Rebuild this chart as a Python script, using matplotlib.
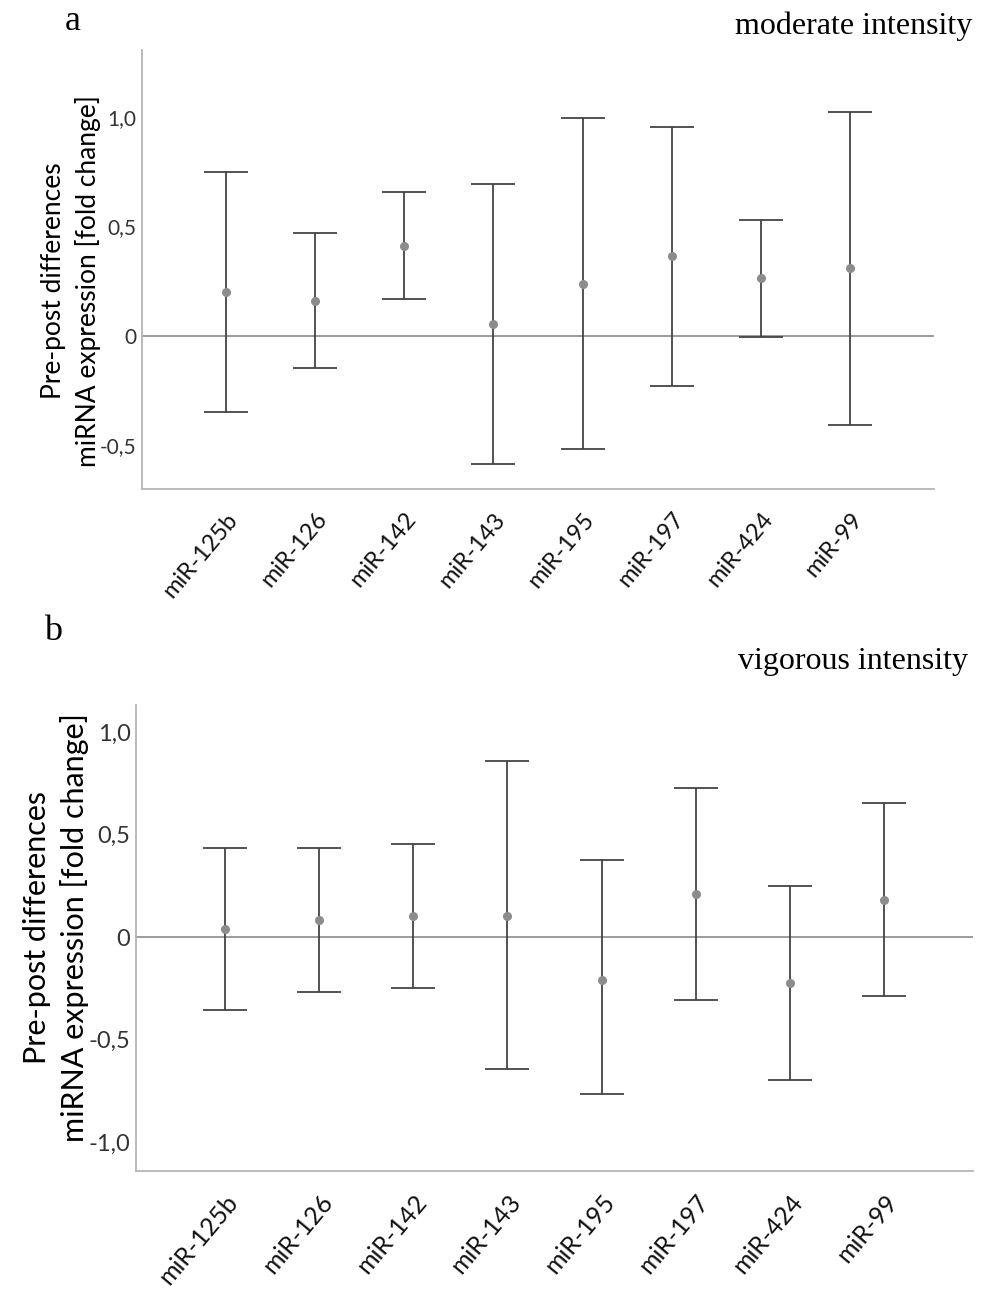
import matplotlib.pyplot as plt
import numpy as np

mirnas = ["miR-125b", "miR-126", "miR-142", "miR-143", "miR-195", "miR-197", "miR-424", "miR-99"]

# moderate intensity: mean and CI bounds (fold change)
mod_mean = [0.20, 0.16, 0.41, 0.054, 0.237, 0.363, 0.262, 0.308]
mod_low = [-0.35, -0.146, 0.166, -0.587, -0.519, -0.228, -0.005, -0.409]
mod_high = [0.749, 0.470, 0.658, 0.694, 0.993, 0.953, 0.527, 1.021]

# vigorous intensity
vig_mean = [0.039, 0.085, 0.102, 0.105, -0.211, 0.211, -0.224, 0.183]
vig_low = [-0.355, -0.269, -0.250, -0.645, -0.766, -0.308, -0.695, -0.287]
vig_high = [0.434, 0.437, 0.455, 0.859, 0.375, 0.729, 0.249, 0.654]

ylabel = "Pre-post differences\nmiRNA expression [fold change]"
sans = ["Lato", "DejaVu Sans"]
serif = ["Liberation Serif", "DejaVu Serif"]


def tick_fmt(v):
    if v == 0:
        return "0"
    return ("%.1f" % v).replace(".", ",")


def panel(ax, mean, low, high, yticks, ylim, xlim, tsize, xsize):
    x = np.arange(len(mirnas))
    mean = np.array(mean)
    err = [mean - np.array(low), np.array(high) - mean]
    ax.axhline(0, color="#808080", lw=1.1, zorder=1)
    ax.errorbar(x, mean, yerr=err, fmt="none", ecolor="#444444",
                elinewidth=1.3, capsize=16, capthick=1.3, zorder=2)
    ax.plot(x, mean, "o", color="#8c8c8c", ms=5.5, zorder=3)
    ax.set_xlim(*xlim)
    ax.set_ylim(*ylim)
    ax.set_yticks(yticks)
    ax.set_yticklabels([tick_fmt(v) for v in yticks], family=sans,
                       fontsize=tsize, color="#333333")
    ax.set_xticks(x)
    ax.set_xticklabels(mirnas, rotation=50, ha="right", rotation_mode="anchor",
                       family=sans, fontsize=xsize, color="#111111")
    ax.tick_params(axis="both", length=0)
    ax.tick_params(axis="x", pad=14)
    ax.tick_params(axis="y", pad=4)
    for s in ["top", "right"]:
        ax.spines[s].set_visible(False)
    for s in ["left", "bottom"]:
        ax.spines[s].set_color("#b5b5b5")
        ax.spines[s].set_linewidth(1.3)


fig = plt.figure(figsize=(9.82, 12.93), dpi=100)

ax1 = fig.add_axes([0.1443, 0.6216, 0.8071, 0.3397])
panel(ax1, mod_mean, mod_low, mod_high, [-0.5, 0, 0.5, 1.0],
      (-0.701, 1.305), (-0.941, 7.94), 15, 17)
fig.text(71 / 982, 1 - 281 / 1293, ylabel, rotation=90, ha="center", va="center",
         family=sans, fontsize=19, linespacing=1.4, multialignment="center")

ax2 = fig.add_axes([0.1385, 0.0946, 0.852, 0.3602])
panel(ax2, vig_mean, vig_low, vig_high, [-1.0, -0.5, 0, 0.5, 1.0],
      (-1.139, 1.133), (-0.945, 7.94), 17, 18)
fig.text(56 / 982, 1 - 928 / 1293, ylabel, rotation=90, ha="center", va="center",
         family=sans, fontsize=22, linespacing=1.4, multialignment="center")

fig.text(73 / 982, 1 - 22 / 1293, "a", family=serif, fontsize=26, ha="center", va="center")
fig.text(53 / 982, 1 - 631 / 1293, "b", family=serif, fontsize=26, ha="center", va="center")
fig.text(972 / 982, 1 - 26 / 1293, "moderate intensity", family=serif, fontsize=23,
         ha="right", va="center")
fig.text(968 / 982, 1 - 661 / 1293, "vigorous intensity", family=serif, fontsize=23,
         ha="right", va="center")

fig.savefig("out.png", dpi=100)
